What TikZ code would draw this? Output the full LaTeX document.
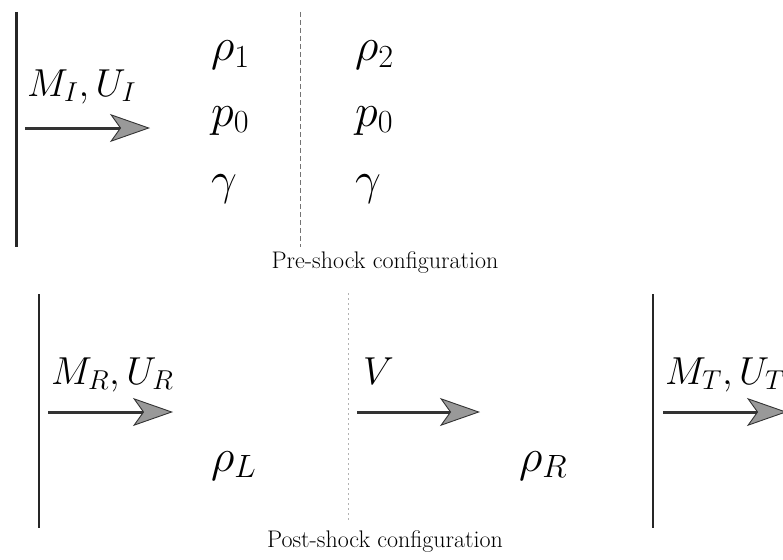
\RequirePackage{fix-cm}
\documentclass[tikz,border=0pt]{standalone}
\usetikzlibrary{arrows.meta}
\begin{document}
\begin{tikzpicture}[x=1pt,y=-1pt,
  wall/.style={line width=2.4pt,draw=black!85},
  bigarrow/.style={line width=3pt,draw=black!80,
    -{Stealth[length=40pt,width=28pt,inset=10pt,fill=black!40,line width=0.9pt]}},
  sep1/.style={line width=0.7pt,draw=black!55,dash pattern=on 5pt off 3pt},
  sep2/.style={line width=0.5pt,draw=black!30,dash pattern=on 2pt off 3pt},
  lbl/.style={inner sep=0pt,anchor=base west,font=\fontsize{39}{44}\selectfont},
  var/.style={inner sep=0pt,anchor=base west,font=\fontsize{46}{52}\selectfont},
  captxt/.style={inner sep=0pt,anchor=base,font=\fontsize{24}{28}\selectfont}]
\useasboundingbox (0,0) rectangle (783,559);
% ---------- pre-shock ----------
\coordinate (w1t) at (16.5,12);
\coordinate (w1b) at (16.5,247);
\draw[wall] (w1t) -- (w1b);
\coordinate (a1s) at (25,128);
\coordinate (a1e) at (150,128);
\draw[bigarrow] (a1s) -- (a1e);
\node[lbl] (lblI) at (27,96) {$M_I,U_I$};
\coordinate (d1t) at (300,12);
\coordinate (d1b) at (300,247);
\draw[sep1] (d1t) -- (d1b);
\node[var] (rho1) at (211,61) {$\rho_1$};
\node[var] (p0a) at (211,126) {$p_0$};
\node[var] (gam1) at (211,194) {$\gamma$};
\node[var] (rho2) at (355,61) {$\rho_2$};
\node[var] (p0b) at (355,126) {$p_0$};
\node[var] (gam2) at (355,194) {$\gamma$};
\node[captxt] (cap1) at (385,268) {Pre-shock configuration};
% ---------- post-shock ----------
\coordinate (w2t) at (39,294);
\coordinate (w2b) at (39,528);
\draw[wall] (w2t) -- (w2b);
\coordinate (a2s) at (48,412);
\coordinate (a2e) at (173,412);
\draw[bigarrow] (a2s) -- (a2e);
\node[lbl] (lblR) at (51,384) {$M_R,U_R$};
\coordinate (d2t) at (348,293);
\coordinate (d2b) at (348,520);
\draw[sep2] (d2t) -- (d2b);
\coordinate (a3s) at (357,412);
\coordinate (a3e) at (480,412);
\draw[bigarrow] (a3s) -- (a3e);
\node[lbl] (lblV) at (363,384) {$V$};
\node[var] (rhoL) at (211,471) {$\rho_L$};
\node[var] (rhoR) at (519,471) {$\rho_R$};
\coordinate (w3t) at (653,294);
\coordinate (w3b) at (653,528);
\draw[wall] (w3t) -- (w3b);
\coordinate (a4s) at (663,412);
\coordinate (a4e) at (787,412);
\draw[bigarrow] (a4s) -- (a4e);
\node[lbl] (lblT) at (665,384) {$M_T,U_T$};
\node[captxt] (cap2) at (385,547) {Post-shock configuration};
\end{tikzpicture}
\end{document}
